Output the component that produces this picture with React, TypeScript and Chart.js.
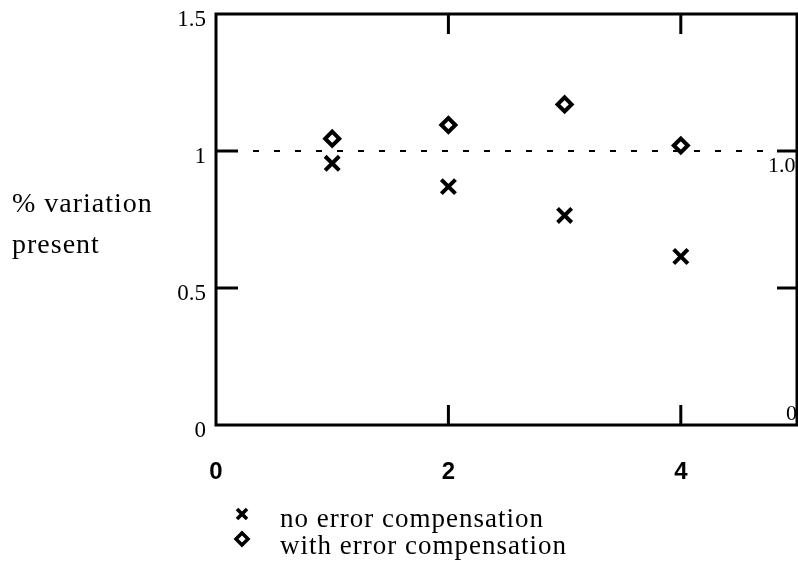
import React, { useEffect, useRef } from "react";
import { Chart, registerables } from "chart.js";

Chart.register(...registerables);

// ---- data ----
const trials = [1, 2, 3, 4];
const noCompensation = [0.955, 0.87, 0.765, 0.615];
const withCompensation = [1.045, 1.095, 1.17, 1.02];
const xTickValues = [0, 2, 4];
const yTickValues = [0, 0.5, 1, 1.5];
const xInnerTicks = [2, 4];
const yInnerTicks = [0.5, 1];
const referenceLevel = 1;
const rightLabels = [
  { value: 1, text: "1.0" },
  { value: 0, text: "0" },
];
const yTitleLines = ["% variation", "present"];
const legendItems = ["no error compensation", "with error compensation"];

const SERIF = '"Liberation Serif", "DejaVu Serif", serif';
const SANS_BOLD = '"Liberation Sans Narrow", "Liberation Sans", Arial, sans-serif';

function line(ctx: CanvasRenderingContext2D, x1: number, y1: number, x2: number, y2: number) {
  ctx.beginPath();
  ctx.moveTo(x1, y1);
  ctx.lineTo(x2, y2);
  ctx.stroke();
}

const framePlugin = {
  id: "frame",
  beforeDatasetsDraw(chart: any) {
    const { ctx, chartArea: a, scales } = chart;
    const xs = scales.x;
    const ys = scales.y;
    ctx.save();
    ctx.strokeStyle = "#000";
    ctx.lineCap = "butt";
    ctx.lineWidth = 3;
    ctx.strokeRect(a.left, a.top, a.right - a.left, a.bottom - a.top);
    for (const v of xInnerTicks) {
      const px = xs.getPixelForValue(v);
      line(ctx, px, a.top, px, a.top + 20);
      line(ctx, px, a.bottom, px, a.bottom - 20);
    }
    for (const v of yInnerTicks) {
      const py = ys.getPixelForValue(v);
      line(ctx, a.left, py, a.left + 22, py);
      line(ctx, a.right, py, a.right - 20, py);
    }
    const pr = ys.getPixelForValue(referenceLevel);
    ctx.lineWidth = 2;
    ctx.setLineDash([6, 15]);
    line(ctx, a.left + 37, pr, a.right - 20, pr);
    ctx.restore();
  },
  afterDraw(chart: any) {
    const { ctx, scales, chartArea: a } = chart;
    const ys = scales.y;
    ctx.save();
    ctx.fillStyle = "#000";
    // right side labels
    ctx.font = `22px ${SERIF}`;
    ctx.textAlign = "left";
    ctx.textBaseline = "middle";
    const rl0 = rightLabels[0];
    ctx.fillText(rl0.text, a.right - 29, ys.getPixelForValue(rl0.value) + 15);
    const rl1 = rightLabels[1];
    ctx.fillText(rl1.text, a.right - 11, ys.getPixelForValue(rl1.value) - 11);

    // y title
    ctx.font = `28px ${SERIF}`;
    (ctx as any).letterSpacing = "1px";
    ctx.textBaseline = "alphabetic";
    ctx.fillText(yTitleLines[0], 12, 212);
    ctx.fillText(yTitleLines[1], 12, 253);

    // legend
    ctx.font = `27px ${SERIF}`;
    ctx.fillText(legendItems[0], 280, 527);
    ctx.fillText(legendItems[1], 280, 554);
    (ctx as any).letterSpacing = "0px";
    ctx.strokeStyle = "#000";
    ctx.lineWidth = 3.5;
    const cx = 242;
    const cy1 = 514;
    line(ctx, cx - 5, cy1 - 5, cx + 5, cy1 + 5);
    line(ctx, cx - 5, cy1 + 5, cx + 5, cy1 - 5);
    const cy2 = 539;
    ctx.beginPath();
    ctx.moveTo(cx - 6, cy2);
    ctx.lineTo(cx, cy2 - 6);
    ctx.lineTo(cx + 6, cy2);
    ctx.lineTo(cx, cy2 + 6);
    ctx.closePath();
    ctx.stroke();
    ctx.restore();
  },
};

export default function App() {
  const ref = useRef<HTMLCanvasElement | null>(null);
  useEffect(() => {
    document.body.style.margin = "0";
    const canvas = ref.current;
    if (!canvas) return;
    const chart = new Chart(canvas, {
      type: "scatter",
      data: {
        datasets: [
          {
            label: legendItems[0],
            data: trials.map((x, i) => ({ x, y: noCompensation[i] })),
            pointStyle: "crossRot",
            pointRadius: 10,
            borderColor: "#000",
            borderWidth: 4,
            backgroundColor: "#000",
          },
          {
            label: legendItems[1],
            data: trials.map((x, i) => ({ x, y: withCompensation[i] })),
            pointStyle: "rectRot",
            pointRadius: 7,
            borderColor: "#000",
            borderWidth: 4,
            backgroundColor: "#fff",
          },
        ],
      },
      options: {
        responsive: false,
        animation: false,
        devicePixelRatio: 1,
        layout: { autoPadding: false, padding: { top: 14, right: 1, left: 0, bottom: 93 } },
        plugins: {
          legend: { display: false },
          tooltip: { enabled: false },
        },
        scales: {
          x: {
            type: "linear",
            min: 0,
            max: 5,
            grid: { display: false, drawTicks: false },
            border: { display: false },
            afterBuildTicks: (s: any) => {
              s.ticks = xTickValues.map((v) => ({ value: v }));
            },
            afterFit: (s: any) => {
              s.height = 60;
              s.paddingLeft = 0;
              s.paddingRight = 0;
            },
            ticks: {
              color: "#000",
              padding: 33,
              maxRotation: 0,
              font: { family: SANS_BOLD, size: 24, weight: "bold" },
            },
          },
          y: {
            type: "linear",
            min: 0,
            max: 1.5,
            grid: { display: false, drawTicks: false },
            border: { display: false },
            afterBuildTicks: (s: any) => {
              s.ticks = yTickValues.map((v) => ({ value: v }));
            },
            afterFit: (s: any) => {
              s.width = 216;
              s.paddingTop = 0;
              s.paddingBottom = 0;
            },
            ticks: {
              color: "#000",
              padding: 10,
              labelOffset: 6,
              font: { family: SERIF, size: 23 },
              callback: (v: any) => String(v),
            },
          },
        },
      },
      plugins: [framePlugin],
    } as any);
    return () => chart.destroy();
  }, []);
  return (
    <div style={{ width: 798, height: 578, background: "#fff" }}>
      <canvas ref={ref} width={798} height={578} />
    </div>
  );
}
